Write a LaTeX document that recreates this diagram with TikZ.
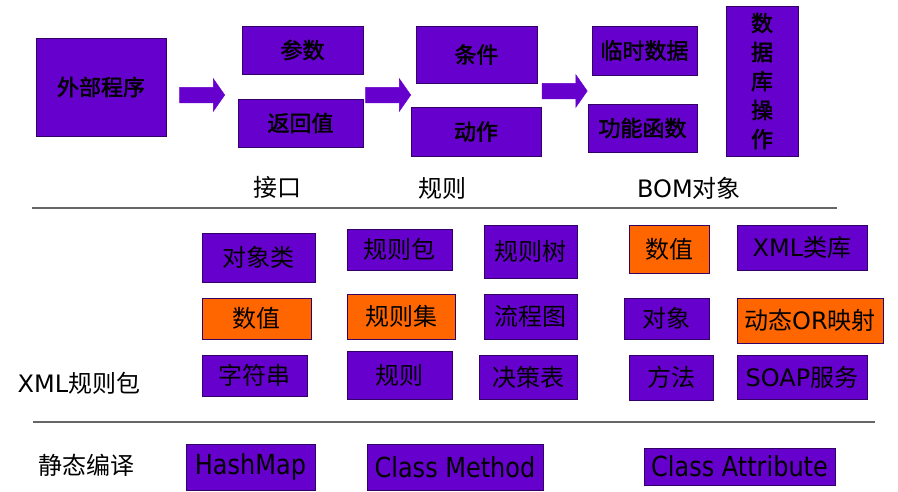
\documentclass[tikz,border=0pt]{standalone}
\usepackage{fontspec}
\setmainfont{DejaVu Sans}
\newfontfamily\cjk{Noto Sans CJK SC}
\newfontfamily\cjkbf[FakeBold=2]{Noto Sans CJK SC}
\usepackage{xcolor}
\usepackage{graphicx}
\usetikzlibrary{shapes.arrows}
\definecolor{vio}{RGB}{102,0,204}
\definecolor{org}{RGB}{255,102,0}
\definecolor{rim}{RGB}{51,0,102}
\colorlet{rulegray}{black!60}
\newcommand\tall[1]{\scalebox{1}[1.15]{#1}}
\tikzstyle{blk}=[draw=rim,line width=.8pt,fill=vio,inner sep=0pt,text=black]
\tikzstyle{tbox}=[blk,font=\cjkbf\fontsize{22}{29}\selectfont,align=center]
\tikzstyle{mbox}=[blk,font=\fontsize{24}{28}\selectfont]
\tikzstyle{obox}=[mbox,fill=org]
\tikzstyle{cbox}=[blk,font=\fontsize{24}{28}\selectfont]
\tikzstyle{lbl}=[font=\fontsize{24}{28}\selectfont]
\tikzstyle{fat}=[single arrow,fill=vio,draw=vio,line width=.5pt,inner xsep=0pt,inner ysep=7.5pt,
  single arrow head extend=8.5pt,single arrow tip angle=110,single arrow head indent=0pt,minimum height=45]
\tikzstyle{hline}=[rulegray,line width=1.5pt]

\begin{document}
\begin{tikzpicture}[x=1pt,y=-1pt]
\useasboundingbox (0,0) rectangle (898,491);
% top row
\node[tbox,minimum width=130,minimum height=98] (ext)  at (101,87)    {外部程序};
\node[tbox,minimum width=121,minimum height=48] (para) at (302.5,50)  {参数};
\node[tbox,minimum width=125,minimum height=48] (ret)  at (300.5,123) {返回值};
\node[tbox,minimum width=121,minimum height=57] (cond) at (476.5,54.5) {条件};
\node[tbox,minimum width=130,minimum height=49] (act)  at (476,131.5) {动作};
\node[tbox,minimum width=105,minimum height=49] (tmp)  at (644.5,50.5) {临时数据};
\node[tbox,minimum width=109,minimum height=48] (func) at (642.5,128) {功能函数};
\node[tbox,minimum width=72,minimum height=150] (db)   at (762,81)    {数\\据\\库\\操\\作};
\node[fat] (a1) at (199.5,95) {};
\node[fat] (a2) at (385.5,95) {};
\node[fat] (a3) at (562,91) {};
\node[lbl] (ifc) at (277,187) {\cjk 接口};
\node[lbl] (rl)  at (442,188) {\cjk 规则};
\node[lbl] (bom) at (689,188) {BOM\cjk 对象};
\draw[hline] (32,208) -- (837,208);
% middle
\node[mbox,minimum width=113,minimum height=49] (ocls)  at (258.5,257.5) {\cjk 对象类};
\node[obox,minimum width=109,minimum height=41] (num1)  at (256.5,318.5) {\cjk 数值};
\node[mbox,minimum width=105,minimum height=41] (str)   at (254.5,375.5) {\cjk 字符串};
\node[mbox,minimum width=105,minimum height=41] (rpkg)  at (399.5,249.5) {\cjk 规则包};
\node[obox,minimum width=108,minimum height=45] (rset)  at (401,316.5)   {\cjk 规则集};
\node[mbox,minimum width=105,minimum height=48] (rule)  at (399.5,375)   {\cjk 规则};
\node[mbox,minimum width=93,minimum height=53]  (rtree) at (530.5,251.5) {\cjk 规则树};
\node[mbox,minimum width=93,minimum height=45]  (flow)  at (530.5,316.5) {\cjk 流程图};
\node[mbox,minimum width=98,minimum height=44]  (dtab)  at (528,377)     {\cjk 决策表};
\node[obox,minimum width=80,minimum height=48]  (num2)  at (669,249)     {\cjk 数值};
\node[mbox,minimum width=85,minimum height=41]  (obj)   at (666.5,318.5) {\cjk 对象};
\node[mbox,minimum width=84,minimum height=45]  (meth)  at (671,377.5)   {\cjk 方法};
\node[mbox,minimum width=130,minimum height=45] (xlib)  at (802,247.5)   {XML\cjk 类库};
\node[obox,minimum width=146,minimum height=45] (orm)   at (810,320.5)   {{\cjk 动态}OR\cjk 映射};
\node[mbox,minimum width=130,minimum height=44] (soap)  at (802,377)     {SOAP\cjk 服务};
\node[lbl] (xmlp) at (79,383) {XML\cjk 规则包};
\draw[hline] (33,422) -- (875,422);
% bottom
\node[lbl] (stc) at (86,465) {\cjk 静态编译};
\node[cbox,minimum width=129,minimum height=46] (hmap) at (250.5,467)   {\tall{HashMap}};
\node[cbox,minimum width=176,minimum height=46] (cmet) at (455,467)     {\tall{Class Method}};
\node[cbox,minimum width=191,minimum height=37] (catt) at (739.5,466.5) {\tall{Class Attribute}};
\end{tikzpicture}
\end{document}
